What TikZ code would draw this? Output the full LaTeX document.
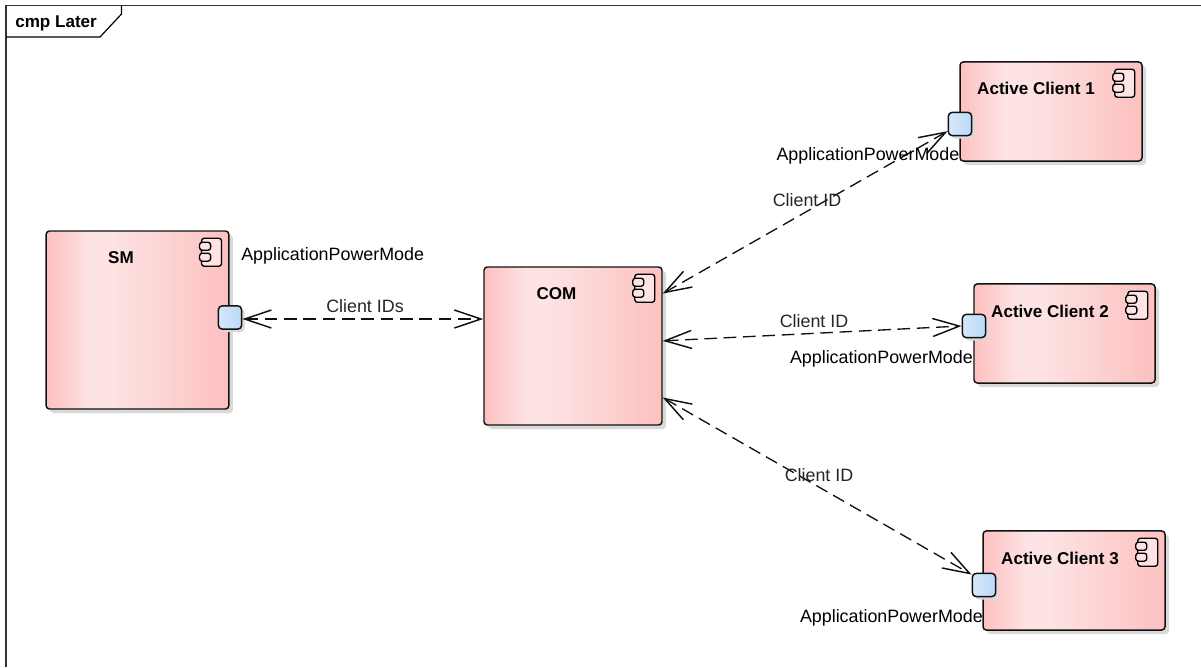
\documentclass[tikz,border=0pt]{standalone}
\usepackage{fontspec}
\setmainfont{Liberation Sans}
\usetikzlibrary{arrows.meta,shadows,calc}
\definecolor{cmpA}{HTML}{FDC0C0}
\definecolor{cmpB}{HTML}{FDE3E3}
\definecolor{prtA}{HTML}{D6E8FB}
\definecolor{prtB}{HTML}{BBD8F7}
\definecolor{shadowgray}{HTML}{D9D9D9}
\definecolor{edge}{HTML}{111111}
\pgfdeclarehorizontalshading{compshade}{100bp}{
  color(0bp)=(cmpA); color(25bp)=(cmpA); color(37bp)=(cmpB); color(43bp)=(cmpB); color(75bp)=(cmpA); color(100bp)=(cmpA)}
\pgfdeclarehorizontalshading{portshade}{100bp}{
  color(0bp)=(prtA); color(25bp)=(prtA); color(75bp)=(prtB); color(100bp)=(prtB)}
\tikzset{
  compbox/.style={draw=edge,line width=1.1pt,rounded corners=2.5pt,shading=compshade,inner sep=0pt,
    drop shadow={shadow xshift=3pt,shadow yshift=-3pt,fill=shadowgray,opacity=1}},
  portbox/.style={draw=edge,line width=1.1pt,rounded corners=3pt,shading=portshade,inner sep=0pt,
    minimum width=17.5pt,minimum height=17.5pt,
    drop shadow={shadow xshift=2.2pt,shadow yshift=-2.2pt,fill=shadowgray,opacity=1}},
  title/.style={font=\bfseries\fontsize{12.8}{14}\selectfont,inner sep=0pt,text=black},
  pname/.style={font=\fontsize{13.4}{15}\selectfont,inner sep=0pt,text=black},
  clabel/.style={font=\fontsize{13.4}{15}\selectfont,inner sep=0pt,text=black!85},
  link/.style={draw=edge,line width=1pt,dash pattern=on 9.5pt off 5pt,
    {Straight Barb[length=20pt,width=13.5pt,line width=1.1pt,sep=0pt]}-{Straight Barb[length=20pt,width=13.5pt,line width=1.1pt]}},
  iconpart/.style={draw=black,line width=1pt,fill=cmpB,rounded corners=2pt},
}
% icon at top right corner #1
\newcommand{\compicon}[1]{%
  \draw[iconpart] ($(#1.north east)+(-21pt,-6pt)$) rectangle ($(#1.north east)+(-6pt,-27pt)$);
  \draw[iconpart] ($(#1.north east)+(-22.5pt,-9pt)$) rectangle ($(#1.north east)+(-14.2pt,-15pt)$);
  \draw[iconpart] ($(#1.north east)+(-22.5pt,-17.2pt)$) rectangle ($(#1.north east)+(-14.2pt,-23.2pt)$);
}
\begin{document}
\begin{tikzpicture}[x=0.75pt,y=-0.75pt]
\useasboundingbox (0,0) rectangle (1201,667);
\fill[white] (0,0) rectangle (1201,667);
% frame
\coordinate (frameTL) at (6,5.5);
\coordinate (frameTR) at (1201,5.5);
\coordinate (frameBL) at (6,667);
\coordinate (tabA) at (121.5,5.5);
\coordinate (tabB) at (121.5,14);
\coordinate (tabC) at (100,37);
\coordinate (tabD) at (6,37);
\draw[black!80,line width=1.2pt] (frameBL) -- (frameTL) -- (frameTR);
\draw[black,line width=0.9pt] (tabA) -- (tabB) -- (tabC) -- (tabD);
\node[title,anchor=west] (ftitle) at (15,23) {cmp Later};
% components
\node[compbox,minimum width=137pt,minimum height=133.5pt] (sm) at (137.5,320) {};
\node[compbox,minimum width=133.5pt,minimum height=118.5pt] (com) at (573,346) {};
\node[compbox,minimum width=136.5pt,minimum height=74.3pt] (ac1) at (1051,111.5) {};
\node[compbox,minimum width=135.8pt,minimum height=74.3pt] (ac2) at (1064.5,333.5) {};
\node[compbox,minimum width=136.5pt,minimum height=74.3pt] (ac3) at (1074,580.5) {};
\compicon{sm}\compicon{com}\compicon{ac1}\compicon{ac2}\compicon{ac3}
\node[title] (tsm) at (121,257.5) {SM};
\node[title] (tcom) at (556.5,293.5) {COM};
\node[title] (tac1) at (1036,88.5) {Active Client 1};
\node[title] (tac2) at (1050,311.5) {Active Client 2};
\node[title] (tac3) at (1060,558.5) {Active Client 3};
% ports
\node[portbox] (psm) at (230,317.5) {};
\node[portbox] (p1) at (960,124) {};
\node[portbox] (p2) at (974,326) {};
\node[portbox] (p3) at (984,585) {};
% connectors
\draw[link] (psm.353) -- (com.west |- psm.353);
\draw[link] ($(com.north east)!0.171!(com.south east)$) -- (p1.210);
\draw[link] ($(com.north east)!0.468!(com.south east)$) -- (p2.west);
\draw[link] ($(com.north east)!0.823!(com.south east)$) -- (p3.140);
% labels
\node[clabel] (l0) at (365,306.5) {Client IDs};
\node[clabel] (l1) at (807,200) {Client ID};
\node[clabel] (l2) at (814,321) {Client ID};
\node[clabel] (l3) at (819,475) {Client ID};
\node[pname,anchor=west] (n0) at (241,256) {ApplicationPowerMode};
\node[pname,anchor=east] (n1) at (959.5,156) {ApplicationPowerMode};
\node[pname,anchor=east] (n2) at (973,359) {ApplicationPowerMode};
\node[pname,anchor=east] (n3) at (983,618) {ApplicationPowerMode};
\end{tikzpicture}
\end{document}
